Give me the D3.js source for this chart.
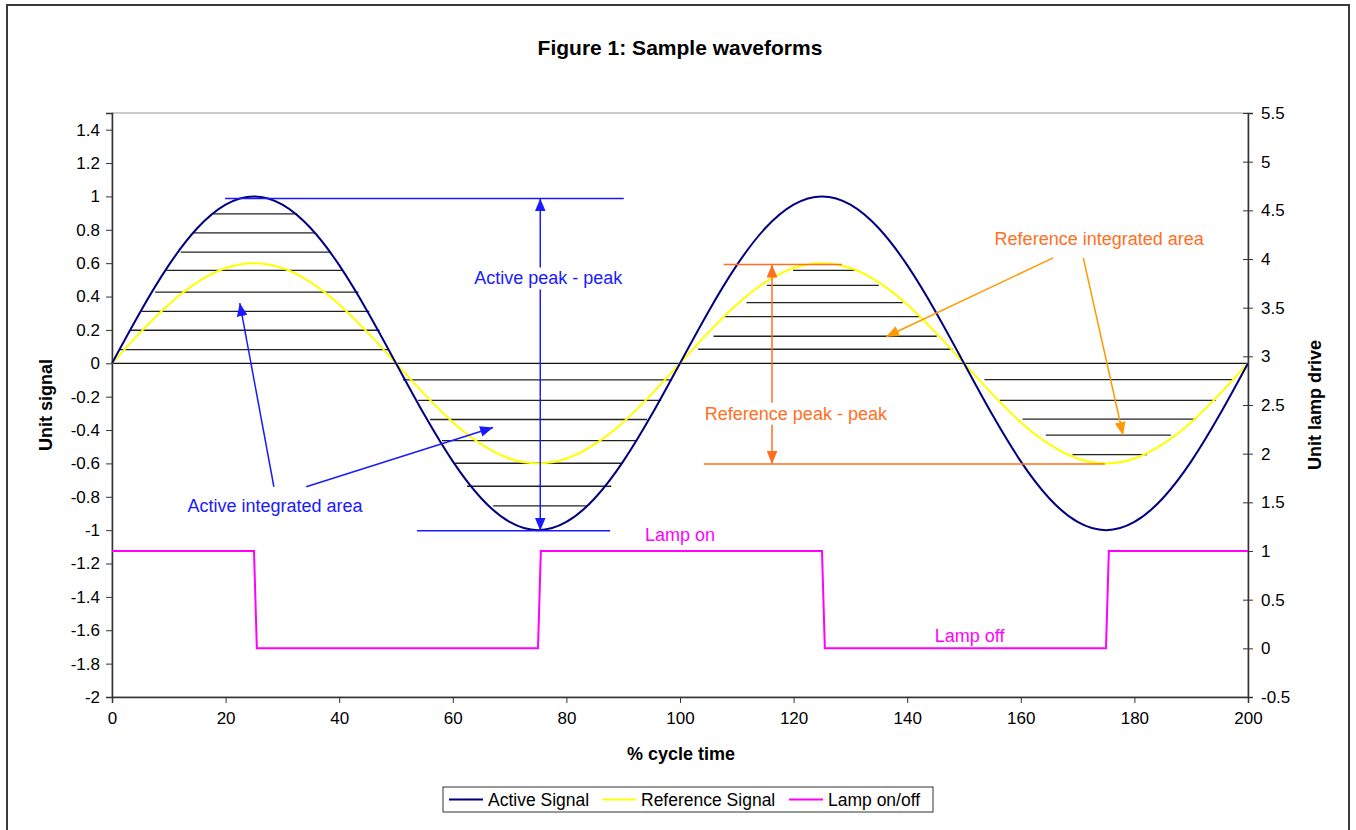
<!DOCTYPE html>
<html>
<head>
<meta charset="utf-8">
<script src="https://cdn.jsdelivr.net/npm/d3@7"></script>
<style>
	body { margin: 0; background: #fff; }
	svg text { font-family: "Liberation Sans", Arial, sans-serif; }
</style>
</head>
<body>
<div id="container"></div>
<script>
/* Data */
var cycle = [0,5,10,15,20,25,30,35,40,45,50,55,60,65,70,75,80,85,90,95,100,
	105,110,115,120,125,130,135,140,145,150,155,160,165,170,175,180,185,190,195,200];
var activeSignal = [0,0.309,0.588,0.809,0.951,1,0.951,0.809,0.588,0.309,0,
	-0.309,-0.588,-0.809,-0.951,-1,-0.951,-0.809,-0.588,-0.309,0,
	0.309,0.588,0.809,0.951,1,0.951,0.809,0.588,0.309,0,
	-0.309,-0.588,-0.809,-0.951,-1,-0.951,-0.809,-0.588,-0.309,0];
var referenceSignal = [0,0.185,0.353,0.485,0.571,0.6,0.571,0.485,0.353,0.185,0,
	-0.185,-0.353,-0.485,-0.571,-0.6,-0.571,-0.485,-0.353,-0.185,0,
	0.185,0.353,0.485,0.571,0.6,0.571,0.485,0.353,0.185,0,
	-0.185,-0.353,-0.485,-0.571,-0.6,-0.571,-0.485,-0.353,-0.185,0];
var lampX = [0,25,25.5,75,75.5,125,125.5,175,175.5,200];
var lampDrive = [1,1,0,0,1,1,0,0,1,1];

/* hand drawn hatch lines: level (left axis), start and end (% cycle) */
var hatchLevel = [0.896,0.782,0.666,0.557,0.427,0.311,0.198,0.082,
	-0.1,-0.222,-0.337,-0.463,-0.599,-0.737,-0.855,
	0.557,0.467,0.363,0.28,0.162,0.084,
	-0.098,-0.222,-0.335,-0.431,-0.547];
var hatchStart = [17.8,14.3,12.1,9.6,7.6,5.2,3.3,1.4,
	51.2,53.9,56.0,58.1,60.4,62.5,67.1,
	119.9,115.3,111.7,107.8,105.9,103.2,
	153.6,156.3,160.3,164.4,169.1];
var hatchEnd = [32.6,35.7,38.4,40.6,43.4,45.3,47.1,48.6,
	98.6,96.7,94.2,92.4,89.8,87.9,83.5,
	131.1,135.0,139.2,142.4,145.2,148.0,
	197.4,194.3,190.8,186.4,182.2];

var leftTicks = [-2,-1.8,-1.6,-1.4,-1.2,-1,-0.8,-0.6,-0.4,-0.2,0,0.2,0.4,0.6,0.8,1,1.2,1.4];
var rightTicks = [-0.5,0,0.5,1,1.5,2,2.5,3,3.5,4,4.5,5,5.5];
var xTicks = [0,20,40,60,80,100,120,140,160,180,200];

var seriesNames = ['Active Signal', 'Reference Signal', 'Lamp on/off'];
var seriesColors = ['#000080', '#ffff00', '#ff00ff'];

/* Layout */
var w = 1356, h = 830;
var margin = {top: 113, right: 108, bottom: 133, left: 112};
var plotWidth = w - margin.left - margin.right,
	plotHeight = h - margin.top - margin.bottom;

var svg = d3.select('#container').append('svg')
	.attr('width', w)
	.attr('height', h);

svg.append('rect')
	.attr('x', 7).attr('y', 5)
	.attr('width', 1342).attr('height', 840)
	.attr('fill', 'none')
	.attr('stroke', '#3a3a3a')
	.attr('stroke-width', 2);

svg.append('text')
	.attr('x', 680).attr('y', 55)
	.attr('text-anchor', 'middle')
	.style('font-size', '21px').style('font-weight', 'bold')
	.text('Figure 1: Sample waveforms');

var chart = svg.append('g')
	.attr('transform', 'translate(' + margin.left + ',' + margin.top + ')');

/* Scales */
var xScale = d3.scaleLinear().domain([0, 200]).range([0, plotWidth]),
	yScale = d3.scaleLinear().domain([-2, 1.5]).range([plotHeight, 0]),
	y2Scale = d3.scaleLinear().domain([-0.5, 5.5]).range([plotHeight, 0]);

/* arrow heads */
var defs = svg.append('defs');
[['head-blue', '#1a1aff'], ['head-orange', '#ff6f1f'], ['head-amber', '#ff9900']].forEach(function(m) {
	defs.append('marker')
		.attr('id', m[0])
		.attr('viewBox', '0 0 12 10')
		.attr('refX', 12).attr('refY', 5)
		.attr('markerWidth', 13).attr('markerHeight', 11)
		.attr('markerUnits', 'userSpaceOnUse')
		.attr('orient', 'auto-start-reverse')
		.append('path')
		.attr('d', 'M0,0L12,5L0,10Z')
		.attr('fill', m[1]);
});

/* plot frame */
chart.append('rect')
	.attr('width', plotWidth).attr('height', plotHeight)
	.attr('fill', 'none')
	.attr('stroke', '#9a9a9a');

/* Axes */
var plain = d => String(d); // keep ascii hyphen like the original
var yAxis = d3.axisLeft(yScale).tickValues(leftTicks).tickSize(6).tickPadding(6)
	.tickFormat(plain);
var y2Axis = d3.axisRight(y2Scale).tickValues(rightTicks).tickSize(5).tickPadding(8)
	.tickFormat(plain);
var xAxis = d3.axisBottom(xScale).tickValues(xTicks).tickSize(6).tickPadding(9)
	.tickFormat(plain);

function styleAxis(g) {
	g.select('.domain').attr('stroke', '#333').attr('stroke-width', 1.5);
	g.selectAll('.tick line').attr('stroke', '#333');
	g.selectAll('text').style('font-size', '17px').attr('fill', '#000')
		.style('font-family', '"Liberation Sans", Arial, sans-serif');
}

chart.append('g').classed('yaxis', true).call(yAxis).call(styleAxis);
var y2g = chart.append('g').classed('y2axis', true)
	.attr('transform', 'translate(' + plotWidth + ',0)')
	.call(y2Axis).call(styleAxis);
y2g.selectAll('.tick line').attr('x1', -5);
chart.append('g').classed('xaxis', true)
	.attr('transform', 'translate(0,' + plotHeight + ')')
	.call(xAxis).call(styleAxis);

/* axis titles */
svg.append('text')
	.attr('transform', 'translate(52,' + (margin.top + yScale(-0.25)) + ') rotate(-90)')
	.attr('text-anchor', 'middle')
	.style('font-size', '18px').style('font-weight', 'bold')
	.text('Unit signal');
svg.append('text')
	.attr('transform', 'translate(1321,' + (margin.top + yScale(-0.25)) + ') rotate(-90)')
	.attr('text-anchor', 'middle')
	.style('font-size', '18px').style('font-weight', 'bold')
	.text('Unit lamp drive');
svg.append('text')
	.attr('x', 681).attr('y', 760)
	.attr('text-anchor', 'middle')
	.style('font-size', '18px').style('font-weight', 'bold')
	.text('% cycle time');

/* hatching + zero line */
chart.append('line')
	.attr('x1', xScale(0)).attr('x2', xScale(200))
	.attr('y1', yScale(0)).attr('y2', yScale(0))
	.attr('stroke', '#111').attr('stroke-width', 1.3);

chart.selectAll('.hatch')
	.data(hatchLevel)
	.enter().append('line')
	.classed('hatch', true)
	.attr('x1', (d, i) => xScale(hatchStart[i]))
	.attr('x2', (d, i) => xScale(hatchEnd[i]))
	.attr('y1', d => yScale(d))
	.attr('y2', d => yScale(d))
	.attr('stroke', '#222').attr('stroke-width', 1.3);

/* series */
var sigLine = d3.line().curve(d3.curveNatural)
	.x((d, i) => xScale(cycle[i]));

chart.append('path')
	.datum(referenceSignal)
	.attr('d', sigLine.y(d => yScale(d)))
	.attr('fill', 'none').attr('stroke', seriesColors[1]).attr('stroke-width', 2);

chart.append('path')
	.datum(activeSignal)
	.attr('d', sigLine.y(d => yScale(d)))
	.attr('fill', 'none').attr('stroke', seriesColors[0]).attr('stroke-width', 2);

var lampLine = d3.line()
	.x((d, i) => xScale(lampX[i]))
	.y(d => y2Scale(d));

chart.append('path')
	.datum(lampDrive)
	.attr('d', lampLine)
	.attr('fill', 'none').attr('stroke', seriesColors[2]).attr('stroke-width', 2);

/* Annotations (data coordinates) */
function segment(x1, y1, x2, y2, color, start, end) {
	var l = chart.append('line')
		.attr('x1', xScale(x1)).attr('y1', yScale(y1))
		.attr('x2', xScale(x2)).attr('y2', yScale(y2))
		.attr('stroke', color).attr('stroke-width', 1.5);
	if (start) l.attr('marker-start', 'url(#' + start + ')');
	if (end) l.attr('marker-end', 'url(#' + end + ')');
	return l;
}

function label(x, y, txt, color, size) {
	var t = chart.append('text')
		.attr('x', xScale(x)).attr('y', yScale(y))
		.attr('text-anchor', 'middle')
		.attr('dy', '0.35em')
		.attr('fill', color)
		.style('font-size', (size || 18) + 'px')
		.text(txt);
	return t;
}

function boxedLabel(x, y, txt, color) {
	var t = label(x, y, txt, color);
	var b = t.node().getBBox();
	chart.insert('rect', function() { return t.node(); })
		.attr('x', b.x - 2).attr('y', b.y - 1)
		.attr('width', b.width + 4).attr('height', b.height + 2)
		.attr('fill', '#fff');
	return t;
}

// active peak-peak
segment(19.9, 0.988, 90.1, 0.988, '#1a1aff');
segment(53.7, -1.003, 87.7, -1.003, '#1a1aff');
segment(75.4, -0.2, 75.4, 0.988, '#1a1aff', null, 'head-blue');
segment(75.4, -0.2, 75.4, -1.003, '#1a1aff', null, 'head-blue');
boxedLabel(76.8, 0.51, 'Active peak - peak', '#1a1aff');

// active integrated area
segment(28.5, -0.74, 22.5, 0.36, '#1a1aff', null, 'head-blue');
segment(34.2, -0.74, 67.1, -0.385, '#1a1aff', null, 'head-blue');
label(28.7, -0.856, 'Active integrated area', '#1a1aff');

// reference peak-peak
segment(107.7, 0.592, 128.5, 0.592, '#ff6f1f');
segment(104.2, -0.603, 174.8, -0.603, '#ff6f1f');
segment(116.2, 0, 116.2, 0.592, '#ff6f1f', null, 'head-orange');
segment(116.2, 0, 116.2, -0.603, '#ff6f1f', null, 'head-orange');
boxedLabel(120.4, -0.3, 'Reference peak - peak', '#ff6f1f');

// reference integrated area
segment(165.7, 0.632, 136.3, 0.159, '#ff9900', null, 'head-amber');
segment(171.0, 0.632, 178.0, -0.43, '#ff9900', null, 'head-amber');
label(173.8, 0.745, 'Reference integrated area', '#ff6f1f');

// lamp labels
label(100, -1.025, 'Lamp on', '#ff00ff');
label(151, -1.63, 'Lamp off', '#ff00ff');

/* Legend */
var legend = svg.append('g').attr('transform', 'translate(443,787)');
legend.append('rect')
	.attr('width', 490).attr('height', 25)
	.attr('fill', '#fff').attr('stroke', '#333');
var legendX = [6, 159, 346];
var entries = legend.selectAll('.entry')
	.data(seriesNames)
	.enter().append('g')
	.attr('transform', (d, i) => 'translate(' + legendX[i] + ',12.5)');
entries.append('line')
	.attr('x1', 0).attr('x2', 34)
	.attr('stroke', (d, i) => seriesColors[i]).attr('stroke-width', 2);
entries.append('text')
	.attr('x', 39).attr('dy', '0.35em')
	.style('font-size', '17.5px')
	.text(d => d);
</script>
</body>
</html>
